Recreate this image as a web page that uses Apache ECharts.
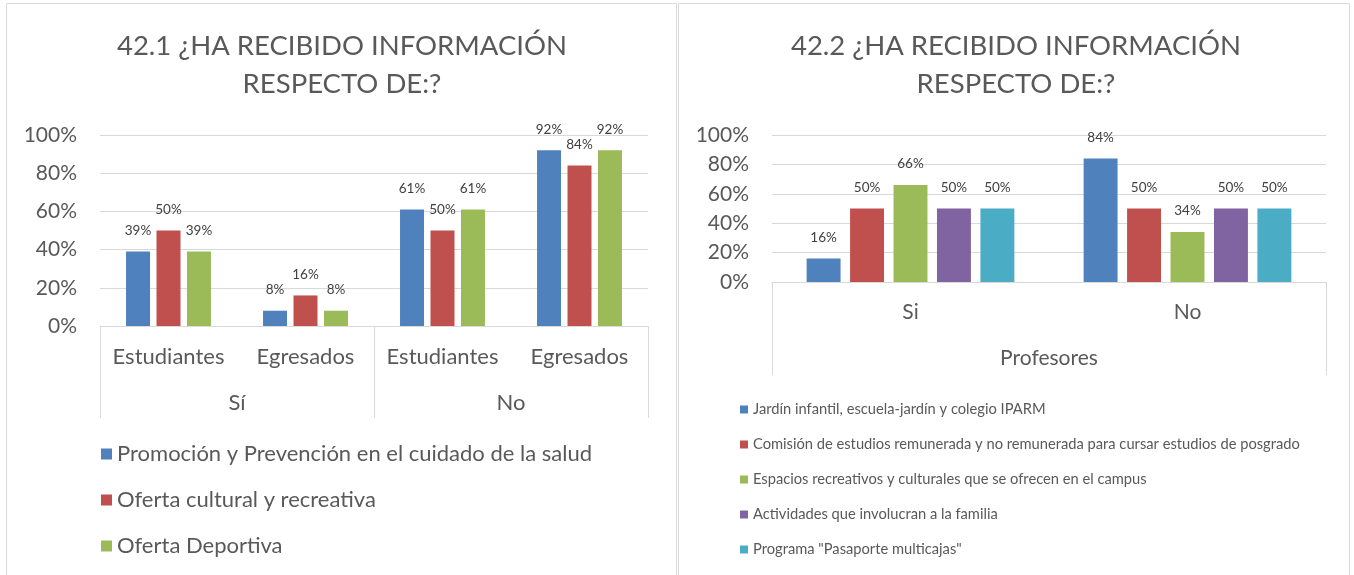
<!DOCTYPE html>
<html>
<head>
<meta charset="utf-8">
<script src="https://cdn.jsdelivr.net/npm/echarts@6/dist/echarts.min.js"></script>
<style>
html,body{margin:0;padding:0;background:#fff;}
#c{width:1354px;height:575px;}
</style>
</head>
<body>
<div id="c"></div>
<script>
// ---- Chart 42.1 data ----
const leftTitle = '42.1 ¿HA RECIBIDO INFORMACIÓN\nRESPECTO DE:?';
const leftSubCats = ['Estudiantes', 'Egresados', 'Estudiantes', 'Egresados'];
const leftGroups = ['Sí', 'No'];
const leftSeriesNames = ['Promoción y Prevención en el cuidado de la salud', 'Oferta cultural y recreativa', 'Oferta Deportiva'];
const leftPromocion = [39, 8, 61, 92];
const leftCultural = [50, 16, 50, 84];
const leftDeportiva = [39, 8, 61, 92];

// ---- Chart 42.2 data ----
const rightTitle = '42.2 ¿HA RECIBIDO INFORMACIÓN\nRESPECTO DE:?';
const rightCats = ['Si', 'No'];
const rightGroups = ['Profesores'];
const rightSeriesNames = ['Jardín infantil, escuela-jardín y colegio IPARM', 'Comisión de estudios remunerada y no remunerada para cursar estudios de posgrado', 'Espacios recreativos y culturales que se ofrecen en el campus', 'Actividades que involucran a la familia', 'Programa "Pasaporte multicajas"'];
const rightJardin = [16, 84];
const rightComision = [50, 50];
const rightEspacios = [66, 34];
const rightActividades = [50, 50];
const rightPasaporte = [50, 50];

const yTicks = [0, 20, 40, 60, 80, 100];

const colors = ['#4F81BD', '#C0504D', '#9BBB59', '#8064A2', '#4BACC6'];
const FONT = 'Lato, "Open Sans", sans-serif';
const GRAY = '#595959';
const GRID = '#d9d9d9';

const chart = echarts.init(document.getElementById('c'), null, {renderer: 'canvas'});

function yAxis(gridIndex) {
  return {
    type: 'value', gridIndex: gridIndex, min: yTicks[0], max: yTicks[yTicks.length - 1], interval: yTicks[1] - yTicks[0],
    axisLabel: {formatter: '{value}%', fontSize: 21, color: GRAY, fontFamily: FONT, margin: 23},
    axisLine: {show: false}, axisTick: {show: false},
    splitLine: {lineStyle: {color: GRID, width: 1}}
  };
}

function barSeries(name, data, color, xi, yi, gap, catGap) {
  return {
    name: name, type: 'bar', data: data, xAxisIndex: xi, yAxisIndex: yi,
    itemStyle: {color: color},
    barGap: gap, barCategoryGap: catGap,
    label: {show: true, position: 'top', distance: 14, formatter: '{c}%', fontSize: 13.5, color: '#404040', fontFamily: FONT},
    emphasis: {disabled: true}
  };
}

const leftVals = [leftPromocion, leftCultural, leftDeportiva];
const rightVals = [rightJardin, rightComision, rightEspacios, rightActividades, rightPasaporte];

const series = [];
leftVals.forEach((v, i) => series.push(barSeries(leftSeriesNames[i], v, colors[i], 0, 0, '27%', '38%')));
rightVals.forEach((v, i) => series.push(barSeries(rightSeriesNames[i], v, colors[i], 2, 1, '28%', '25%')));

chart.setOption({
  animation: false,
  textStyle: {fontFamily: FONT},
  grid: [
    {left: 100, width: 548, top: 135, height: 191},
    {left: 772, width: 554, top: 135, height: 147}
  ],
  xAxis: [
    {type: 'category', gridIndex: 0, data: leftSubCats,
     axisLine: {lineStyle: {color: GRID}}, axisTick: {show: false},
     axisLabel: {interval: 0, fontSize: 22, color: GRAY, fontFamily: FONT, margin: 20}},
    {type: 'category', gridIndex: 0, data: leftGroups, position: 'bottom',
     axisLine: {show: false},
     axisTick: {show: true, length: 92, lineStyle: {color: GRID}},
     axisLabel: {interval: 0, fontSize: 22, color: GRAY, fontFamily: FONT, margin: 66}},
    {type: 'category', gridIndex: 1, data: rightCats,
     axisLine: {lineStyle: {color: GRID}},
     axisTick: {show: false},
     axisLabel: {interval: 0, fontSize: 21, color: GRAY, fontFamily: FONT, margin: 20}},
    {type: 'category', gridIndex: 1, data: rightGroups, position: 'bottom',
     axisLine: {show: false},
     axisTick: {show: true, length: 93, lineStyle: {color: GRID}},
     axisLabel: {interval: 0, fontSize: 21, color: GRAY, fontFamily: FONT, margin: 66}}
  ],
  yAxis: [yAxis(0), yAxis(1)],
  legend: [
    {data: leftSeriesNames, orient: 'vertical', left: 96, top: 438, itemWidth: 11, itemHeight: 11, itemGap: 24,
     icon: 'rect', textStyle: {fontSize: 22, color: GRAY, fontFamily: FONT}, selectedMode: false},
    {data: rightSeriesNames, orient: 'vertical', left: 735, top: 397, itemWidth: 8, itemHeight: 8, itemGap: 20, icon: 'rect',
     textStyle: {fontSize: 14.7, color: GRAY, fontFamily: FONT}, selectedMode: false}
  ],
  graphic: [
    {type: 'rect', shape: {x: 6.5, y: 3.5, width: 670, height: 580}, style: {fill: 'none', stroke: '#d9d9d9', lineWidth: 1}, silent: true, z: -10},
    {type: 'rect', shape: {x: 678.5, y: 3.5, width: 671, height: 580}, style: {fill: 'none', stroke: '#d9d9d9', lineWidth: 1}, silent: true, z: -10},
    {type: 'text', x: 342, y: 27, style: {text: leftTitle, textAlign: 'center', fontSize: 27.5, lineHeight: 38, fontFamily: FONT, fill: GRAY}},
    {type: 'text', x: 1016, y: 27, style: {text: rightTitle, textAlign: 'center', fontSize: 27.5, lineHeight: 38, fontFamily: FONT, fill: GRAY}}
  ],
  series: series
});
</script>
</body>
</html>
